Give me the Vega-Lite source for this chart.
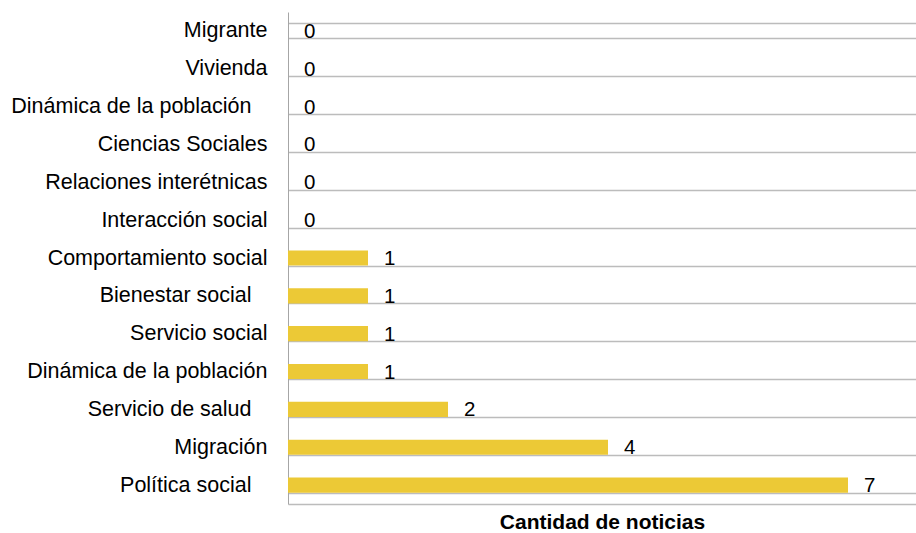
{
  "$schema": "https://vega.github.io/schema/vega-lite/v6.json",
  "width": 628,
  "height": 492,
  "autosize": {"type": "none"},
  "padding": {"left": 288, "top": 12, "right": 0, "bottom": 29},
  "background": "white",
  "config": {"view": {"stroke": null}, "font": "Liberation Sans"},
  "data": {
    "values": [
      {"tema": "Migrante", "noticias": 0},
      {"tema": "Vivienda", "noticias": 0},
      {"tema": "Dinámica de la población\u2800", "noticias": 0},
      {"tema": "Ciencias Sociales", "noticias": 0},
      {"tema": "Relaciones interétnicas", "noticias": 0},
      {"tema": "Interacción social", "noticias": 0},
      {"tema": "Comportamiento social", "noticias": 1},
      {"tema": "Bienestar social\u2800", "noticias": 1},
      {"tema": "Servicio social", "noticias": 1},
      {"tema": "Dinámica de la población", "noticias": 1},
      {"tema": "Servicio de salud\u2800", "noticias": 2},
      {"tema": "Migración", "noticias": 4},
      {"tema": "Política social\u2800", "noticias": 7}
    ]
  },
  "encoding": {
    "y": {
      "field": "tema",
      "type": "nominal",
      "sort": null,
      "scale": {"paddingInner": 0.6, "paddingOuter": 0.3},
      "axis": {
        "title": null,
        "ticks": false,
        "labelPadding": 21,
        "labelFontSize": 21.5,
        "labelColor": "#000000",
        "labelLimit": 400,
        "domainColor": "#a6a6a6",
        "grid": true,
        "gridColor": "#bcbcbc",
        "gridWidth": 1.5,
        "tickBand": "extent"
      }
    },
    "x": {
      "field": "noticias",
      "type": "quantitative",
      "scale": {"domain": [0, 7.85], "nice": false, "zero": true},
      "axis": {
        "title": "Cantidad de noticias",
        "titleFontSize": 21,
        "titleFontWeight": "bold",
        "titleColor": "#000000",
        "titlePadding": 7,
        "labels": false,
        "ticks": false,
        "grid": false,
        "domainColor": "#bcbcbc",
        "domainWidth": 1.5
      }
    }
  },
  "layer": [
    {"mark": {"type": "bar", "color": "#ECC936"}},
    {
      "mark": {"type": "text", "align": "left", "baseline": "middle", "dx": 16, "dy": 1, "fontSize": 20.5, "color": "#000000"},
      "encoding": {"text": {"field": "noticias", "type": "quantitative"}}
    }
  ]
}
